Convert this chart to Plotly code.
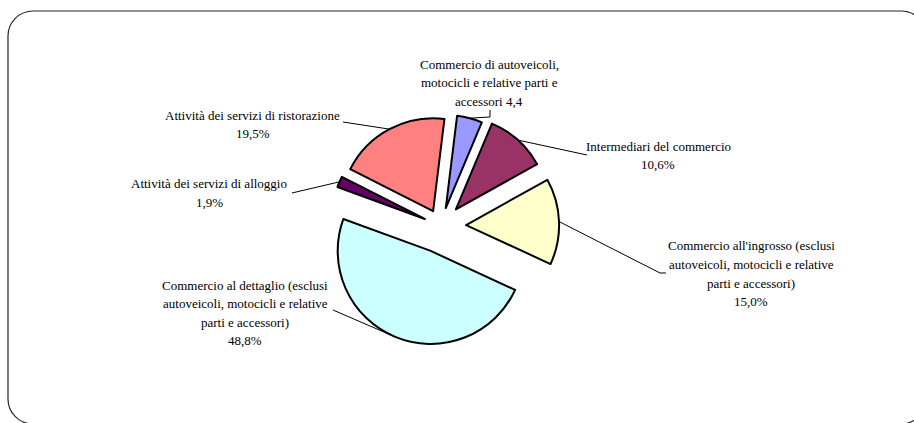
import math
import plotly.graph_objects as go

W, H = 914, 423

# ---------------- data ----------------
categories = [
    "Commercio di autoveicoli, motocicli e relative parti e accessori",
    "Intermediari del commercio",
    "Commercio all'ingrosso (esclusi autoveicoli, motocicli e relative parti e accessori)",
    "Commercio al dettaglio (esclusi autoveicoli, motocicli e relative parti e accessori)",
    "Attività dei servizi di alloggio",
    "Attività dei servizi di ristorazione",
]
values = [4.4, 10.6, 15.0, 48.8, 1.9, 19.5]
label_lines = [
    ["Commercio di autoveicoli,", "motocicli e relative parti e", "accessori {v}"],
    ["Intermediari del commercio", "{v}%"],
    ["Commercio all'ingrosso (esclusi", "autoveicoli, motocicli e relative", "parti e accessori)", "{v}%"],
    ["Commercio al dettaglio (esclusi", "autoveicoli, motocicli e relative", "parti e accessori)", "{v}%"],
    ["Attività dei servizi di alloggio", "{v}%"],
    ["Attività dei servizi di ristorazione", "{v}%"],
]

# ---------------- style / layout ----------------
colors = ["#9999FF", "#993366", "#FFFFCC", "#CCFFFF", "#660066", "#FF8080"]
pulls = [0.20, 0.24, 0.27, 0.29, 0.19, 0.18]
rotation = 7
CX, CY, R = 441, 226, 93                      # pie centre / radius (px)
half = R * (1 + max(pulls))
dom_x = [(CX - half) / W, (CX + half) / W]
dom_y = [1 - (CY + half) / H, 1 - (CY - half) / H]

label_pos = [(489, 64), (658, 146), (751, 246), (245, 285), (209, 184), (253, 115)]
line_gap = 18.6
leader_ends = [
    [(490, 117), (490, 110)],
    [(587, 155)],
    [(660, 273), (666, 273)],
    [(333, 310)],
    [(292, 193)],
    [(343, 122)],
]

FONT = dict(family="Liberation Serif", size=13, color="black")


def px(x, y):
    return x / W, 1 - y / H


# geometry like plotly does it
w_px = (dom_x[1] - dom_x[0]) * W
h_px = (dom_y[1] - dom_y[0]) * H
r_real = min(w_px, h_px) / (2 + 2 * max(pulls))
cx_real = (dom_x[0] + dom_x[1]) / 2 * W
cy_real = (1 - (dom_y[0] + dom_y[1]) / 2) * H
total = sum(values)

fig = go.Figure()
fig.add_trace(go.Pie(
    values=values,
    labels=categories,
    sort=False,
    direction="clockwise",
    rotation=rotation,
    pull=pulls,
    textinfo="none",
    hoverinfo="label+percent",
    marker=dict(colors=colors, line=dict(color="black", width=2)),
    domain=dict(x=dom_x, y=dom_y),
    showlegend=False,
))

shapes = []
annotations = []
cum = 0.0
for i, v in enumerate(values):
    mid = math.radians(rotation + 360 * (cum + v / 2) / total)
    cum += v
    d = r_real * (1 + pulls[i])
    ax = cx_real + d * math.sin(mid)
    ay = cy_real - d * math.cos(mid)
    pts = [(ax, ay)] + leader_ends[i]
    path = ""
    for j, (x, y) in enumerate(pts):
        X, Y = px(x, y)
        path += ("M" if j == 0 else " L") + f"{X:.5f},{Y:.5f}"
    shapes.append(dict(type="path", xref="paper", yref="paper", path=path,
                       line=dict(color="black", width=1)))
    vs = f"{v:.1f}".replace(".", ",")
    lx, ly = label_pos[i]
    for k, t in enumerate(label_lines[i]):
        X, Y = px(lx, ly + k * line_gap)
        annotations.append(dict(text=t.format(v=vs), x=X, y=Y, xref="paper", yref="paper",
                                xanchor="center", yanchor="middle", showarrow=False, font=FONT))

# rounded frame
x0, y0, x1, y1, rr = 8, 11, 926, 424, 25
k = 0.5523 * rr
seg = [
    ("M", [(x0 + rr, y0)]),
    ("L", [(x1 - rr, y0)]),
    ("C", [(x1 - rr + k, y0), (x1, y0 + rr - k), (x1, y0 + rr)]),
    ("L", [(x1, y1 - rr)]),
    ("C", [(x1, y1 - rr + k), (x1 - rr + k, y1), (x1 - rr, y1)]),
    ("L", [(x0 + rr, y1)]),
    ("C", [(x0 + rr - k, y1), (x0, y1 - rr + k), (x0, y1 - rr)]),
    ("L", [(x0, y0 + rr)]),
    ("C", [(x0, y0 + rr - k), (x0 + rr - k, y0), (x0 + rr, y0)]),
]
fpath = ""
for cmd, ps in seg:
    fpath += " " + cmd + " ".join(f"{px(a, b)[0]:.5f},{px(a, b)[1]:.5f}" for a, b in ps)
fpath += " Z"
shapes.append(dict(type="path", xref="paper", yref="paper", path=fpath.strip(),
                   line=dict(color="#222222", width=1.2), layer="below"))

fig.update_layout(
    width=W, height=H,
    margin=dict(l=0, r=0, t=0, b=0),
    paper_bgcolor="white",
    plot_bgcolor="white",
    showlegend=False,
    shapes=shapes,
    annotations=annotations,
    font=FONT,
)

fig.write_html(
    "out.html",
    config={"displayModeBar": False},
    post_script="document.body.style.margin='0';document.body.style.overflow='hidden';",
)
